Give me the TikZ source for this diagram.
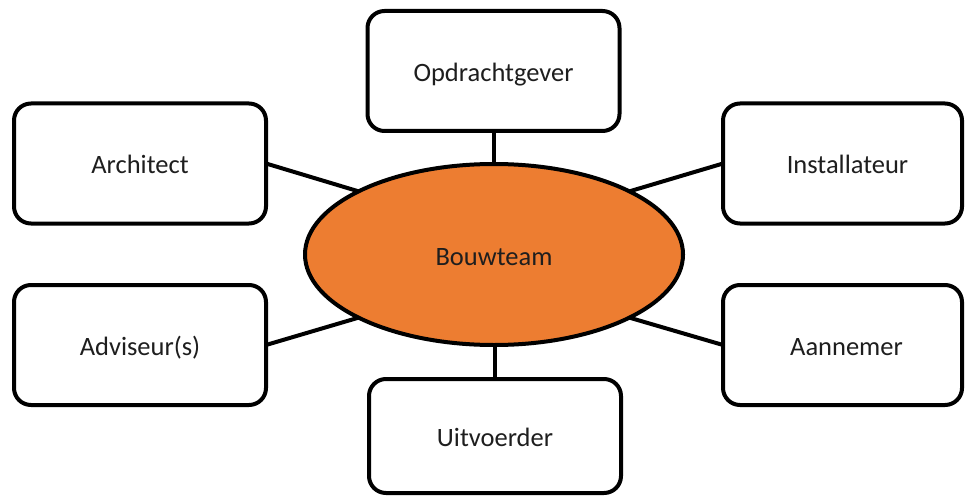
\documentclass[tikz,border=0pt]{standalone}
\usepackage{fontspec}
\setmainfont{Carlito}
\usetikzlibrary{shapes.geometric}
\definecolor{bouworange}{HTML}{ED7D31}
\definecolor{labelgray}{HTML}{1E1E1E}
\tikzset{
  label text/.style={text=labelgray, font=\fontsize{26.5}{30}\selectfont,
    text height=22pt, text depth=1pt},
  party/.style={draw=black, line width=4pt, rounded corners=17pt, fill=white,
    minimum width=252pt, minimum height=120pt, inner sep=0pt, outer sep=0pt,
    label text},
  team/.style={ellipse, draw=black, line width=4pt, fill=bouworange,
    minimum width=378pt, minimum height=181pt, inner sep=0pt, outer sep=0pt,
    label text},
  link/.style={draw=black, line width=4pt}
}
\begin{document}
\begin{tikzpicture}[x=1pt, y=-1pt]
  \useasboundingbox (0,0) rectangle (965,497);
  % central ellipse
  \node[team] (bt) at (494,254.5) {Bouwteam};
  % surrounding parties
  \node[party] (opd) at (493.5,71) {Opdrachtgever};
  \node[party] (arch) at (140,163.5) {Architect};
  \node[party] (adv) at (140,345) {Adviseur(s)};
  \node[party, minimum width=239pt] (inst) at (842.5,163.5) {\hspace*{10pt}Installateur};
  \node[party, minimum width=239pt] (aan) at (842.5,345) {\hspace*{8pt}Aannemer};
  \node[party, minimum height=114pt] (uit) at (495,436) {Uitvoerder};
  % connectors
  \draw[link] (opd.south) -- (opd.south |- bt.north);
  \draw[link] (uit.north) -- (uit.north |- bt.south);
  \draw[link] (arch.east) -- (bt.155);
  \draw[link] (adv.east) -- (bt.205);
  \draw[link] (inst.west) -- (bt.25);
  \draw[link] (aan.west) -- (bt.335);
\end{tikzpicture}
\end{document}
